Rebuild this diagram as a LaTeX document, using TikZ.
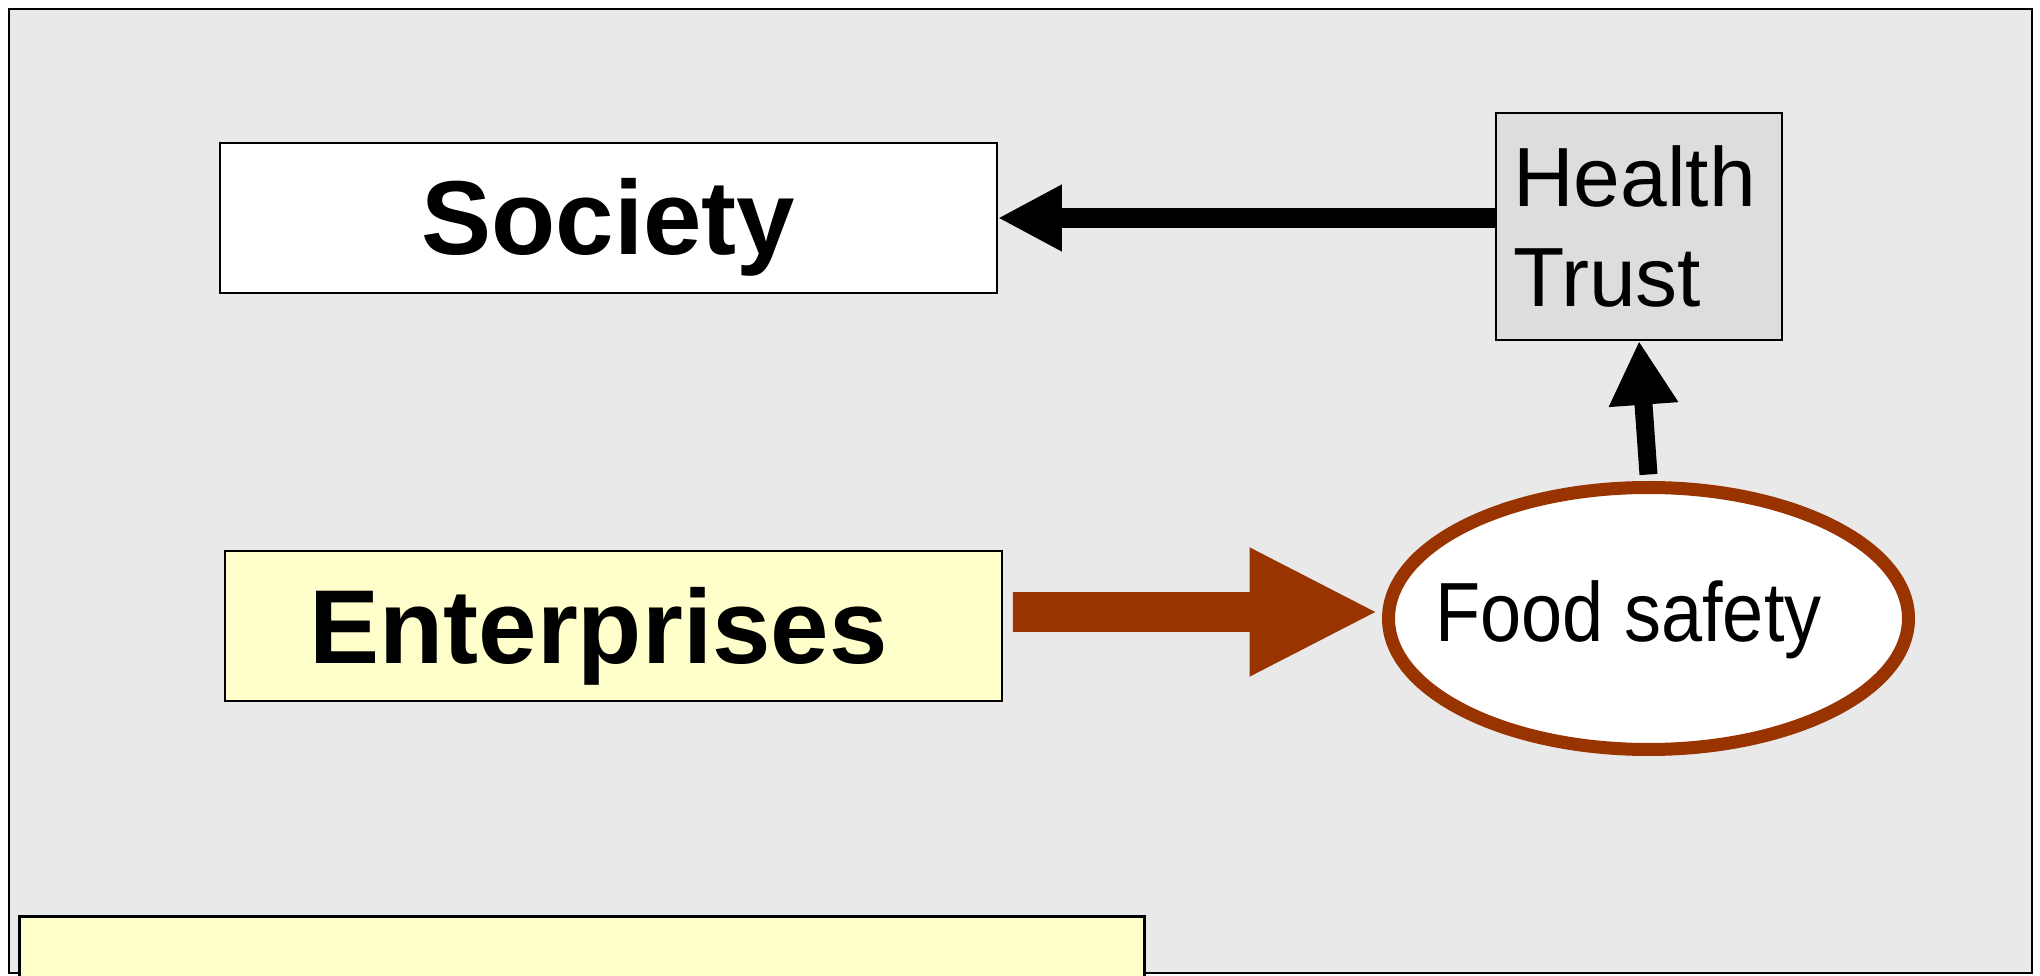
\documentclass[tikz,border=0pt]{standalone}
\usepackage{fontspec}
\setmainfont{Liberation Sans}
\usepackage{tikz}
\usetikzlibrary{arrows.meta}
\usetikzlibrary{shapes.geometric}
\definecolor{frmgray}{HTML}{E9E9E9}
\definecolor{entyellow}{HTML}{FFFFCC}
\definecolor{trstgray}{HTML}{DDDDDD}
\definecolor{fdbrown}{HTML}{993300}
\newcommand{\bxw}{7.77cm}
\newcommand{\bxh}{1.5cm}
\newcommand{\frmxa}{0.09}
\newcommand{\frmxb}{20.32}
\newcommand{\frmya}{0.02}
\newcommand{\frmyb}{9.66}
\newcommand{\sctyx}{6.085}
\newcommand{\sctyy}{7.57}
\newcommand{\entx}{6.135}
\newcommand{\enty}{3.49}
\newcommand{\trstx}{16.39}
\newcommand{\trsty}{7.485}
\newcommand{\fdx}{16.485}
\newcommand{\fdy}{3.565}
\newcommand{\btmx}{0.18}
\newcommand{\btmy}{0.60}
\newcommand{\bigfnt}{\fontsize{29.9}{36}\selectfont\bfseries}
\newcommand{\midfnt}{\fontsize{23.9}{28.7}\selectfont}
\tikzset{
  namebox/.style={draw=black, line width=0.45pt, fill=white,
    minimum width=\bxw, minimum height=\bxh, inner sep=0pt, font=\bigfnt,
    text height=1.12cm, text depth=0.38cm},
  entbox/.style={namebox, fill=entyellow, text height=1.11cm, text depth=0.37cm},
  trstbox/.style={draw=black, line width=0.45pt, fill=trstgray,
    text width=2.52cm, inner xsep=0.17cm, inner ysep=0pt, align=left,
    minimum height=2.27cm, font=\midfnt},
  fdell/.style={ellipse, draw=fdbrown, line width=0.13cm, fill=white,
    minimum width=5.2cm, minimum height=2.62cm, inner sep=0pt, font=\midfnt},
  blkarr/.style={line width=0.2cm, -{Triangle[length=0.64cm, width=0.62cm]}},
  uparr/.style={line width=0.18cm, -{Triangle[length=0.64cm, width=0.65cm]}},
  brnarr/.style={fdbrown, line width=0.40cm,
    -{Triangle[length=1.29cm, width=1.19cm]}}
}
\begin{document}
\begin{tikzpicture}
    \useasboundingbox (0,0) rectangle (20.4,9.75);
    \draw[line width=0.75pt, fill=frmgray] (\frmxa,\frmya) rectangle (\frmxb,\frmyb);

    \node (society) at (\sctyx, \sctyy) [namebox] {Society};
    \node (ent) at (\entx, \enty) [entbox] {\hspace{-0.3cm}Enterprises};
    \node (trust) at (\trstx, \trsty) [trstbox] {Health\\Trust};
    \node (food) at (\fdx, \fdy) [fdell]
      {\makebox[0pt]{\hspace{-0.4cm}\raisebox{-0.23cm}[0pt][0pt]{%
        \scalebox{0.88}[1]{Food safety}}}};
    \node (btm) at (\btmx, \btmy) [entbox, line width=0.8pt, anchor=north west,
      minimum width=11.25cm, minimum height=1cm] {};

    \draw[blkarr] (trust.west |- society.east) -- (society.east);
    \draw[uparr] ([yshift=0.065cm]food.north) -- (trust.south);
    \draw[brnarr] ([shift={(0.10,0.14)}]ent.east)
      -- ([shift={(-0.035,0.065)}]food.west);
\end{tikzpicture}
\end{document}
